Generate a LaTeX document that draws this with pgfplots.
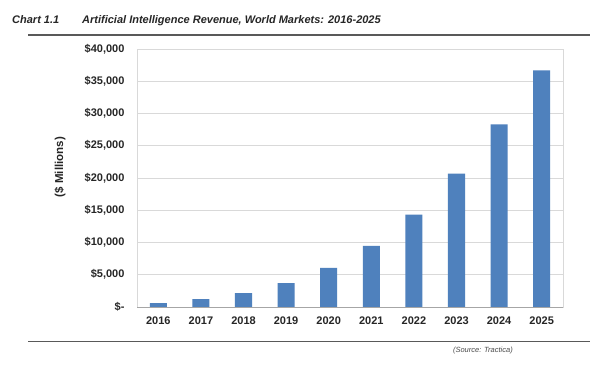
\documentclass[border=0pt]{standalone}
\usepackage{pgfplots}
\pgfplotsset{compat=1.18}
\usepackage{fontspec}
\setmainfont{Liberation Sans}
\definecolor{barblue}{HTML}{4F81BD}
\definecolor{gridgray}{HTML}{D9D9D9}
\definecolor{rulegray}{HTML}{595959}
\begin{document}
\begin{tikzpicture}[x=1bp,y=-1bp]
\path[use as bounding box] (0,0) rectangle (600,369);
\fill[white] (0,0) rectangle (600,369);
% title
\node[anchor=base west,font=\fontsize{11bp}{13bp}\selectfont\bfseries\itshape,text=black!85,inner sep=0pt] at (12,23) {Chart 1.1};
\node[anchor=base west,font=\fontsize{11bp}{13bp}\selectfont\bfseries\itshape,text=black!85,inner sep=0pt] at (82,23) {Artificial Intelligence Revenue, World Markets: 2016-2025};
\draw[rulegray,line width=1.3bp] (28,35) -- (590,35);
\draw[rulegray,line width=1.3bp] (28,341.5) -- (590,341.5);
\node[anchor=base east,font=\fontsize{7.5bp}{9bp}\selectfont\itshape,text=black!70,inner sep=0pt] at (513,352) {(Source: Tractica)};
\begin{axis}[
  at={(137bp,-307bp)}, anchor=south west,
  scale only axis, width=426bp, height=258bp,
  xmin=-0.5, xmax=9.5, ymin=0, ymax=40000,
  scaled y ticks=false,
  ytick={0,5000,10000,15000,20000,25000,30000,35000,40000},
  yticklabels={{\$-},{\$5,000},{\$10,000},{\$15,000},{\$20,000},{\$25,000},{\$30,000},{\$35,000},{\$40,000}},
  xtick={0,...,9},
  xticklabels={2016,2017,2018,2019,2020,2021,2022,2023,2024,2025},
  tick style={draw=none},
  ymajorgrids, grid style={gridgray,line width=0.8bp},
  axis line style={gridgray,line width=0.8bp},
  ticklabel style={font=\fontsize{11bp}{12bp}\selectfont\bfseries,text=black!85},
  yticklabel style={xshift=-9bp},
  xticklabel style={yshift=-6bp},
  ylabel={(\$ Millions)},
  every axis y label/.style={at={(-77bp,140bp)},rotate=90,anchor=center,font=\fontsize{11.5bp}{13bp}\selectfont\bfseries,text=black!85},
]
\addplot[ybar, bar width=0.4, fill=barblue, draw=none] coordinates {
(0,620) (1,1240) (2,2170) (3,3720) (4,6050) (5,9470) (6,14340) (7,20690) (8,28320) (9,36690)};
\draw[gray!70,line width=0.9bp] (axis cs:-0.5,0) -- (axis cs:9.5,0);
\end{axis}
\end{tikzpicture}
\end{document}
